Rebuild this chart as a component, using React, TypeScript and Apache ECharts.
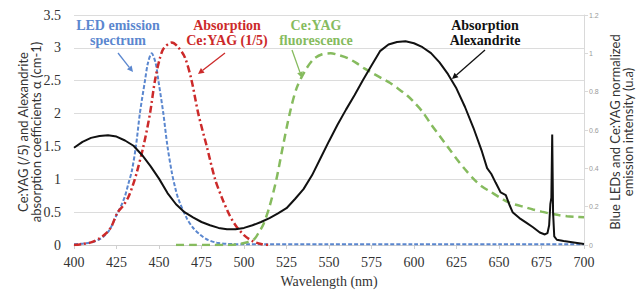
import React, { useEffect, useRef } from "react";
import * as echarts from "echarts";

// ---- Data ----
const xTicks = [400, 425, 450, 475, 500, 525, 550, 575, 600, 625, 650, 675, 700];

// Alexandrite absorption coefficient (left axis, cm-1)
const alexNm = [400, 405, 410, 415, 420, 425, 430, 435, 440, 445, 450, 455, 460, 465, 470, 475, 480, 485, 490, 495, 500, 505, 510, 515, 520, 525, 530, 535, 540, 545, 550, 555, 560, 565, 570, 575, 580, 585, 590, 595, 600, 605, 610, 615, 620, 625, 630, 635, 640, 643, 645.5, 648, 651, 654, 656, 658, 662, 666, 670, 674, 677, 678.5, 679.5, 680.2, 680.8, 681.3, 681.8, 682.5, 684, 688, 692, 696, 700];
const alexAbs = [1.48, 1.57, 1.63, 1.66, 1.67, 1.65, 1.59, 1.51, 1.37, 1.2, 1.01, 0.79, 0.62, 0.5, 0.42, 0.35, 0.3, 0.26, 0.24, 0.24, 0.26, 0.3, 0.35, 0.41, 0.48, 0.56, 0.7, 0.85, 1.06, 1.32, 1.58, 1.83, 2.06, 2.28, 2.51, 2.73, 2.95, 3.05, 3.09, 3.1, 3.07, 3.01, 2.92, 2.78, 2.6, 2.38, 2.1, 1.78, 1.42, 1.17, 1.08, 0.95, 0.8, 0.76, 0.62, 0.5, 0.41, 0.34, 0.27, 0.19, 0.16, 0.18, 0.3, 0.62, 0.72, 1.68, 0.5, 0.13, 0.08, 0.06, 0.045, 0.03, 0.015];

// Ce:YAG absorption /5 (left axis)
const yagAbsNm = [400, 405, 410, 415, 419, 422, 425.5, 429, 432, 434.5, 437, 441, 444.7, 447.6, 450.6, 453, 457.5, 461, 465.3, 469.2, 473.1, 478, 483, 487, 491, 495, 500, 505, 510, 515];
const yagAbs = [0.0, 0.015, 0.04, 0.1, 0.18, 0.28, 0.49, 0.6, 0.73, 0.9, 1.11, 1.52, 2.0, 2.5, 2.85, 3.0, 3.08, 3.02, 2.85, 2.5, 2.0, 1.51, 1.0, 0.72, 0.48, 0.3, 0.15, 0.06, 0.015, 0.0];

// Blue LED emission (right axis, normalized)
const ledNm = [400, 405, 410, 415, 418, 421, 425, 428, 430, 432, 434, 436.5, 438.8, 441.8, 443.5, 445.7, 448, 449.6, 452.5, 454.9, 457.5, 459.5, 461.4, 466.3, 470, 474, 478, 484, 490, 500, 550, 600, 650, 700];
const ledEm = [0.004, 0.007, 0.013, 0.03, 0.05, 0.08, 0.155, 0.21, 0.255, 0.32, 0.385, 0.52, 0.69, 0.86, 0.95, 1.0, 0.95, 0.86, 0.69, 0.52, 0.38, 0.3, 0.24, 0.14, 0.09, 0.055, 0.03, 0.012, 0.006, 0.004, 0.004, 0.004, 0.004, 0.004];

// Ce:YAG fluorescence (right axis, normalized)
const fluoNm = [460, 470, 480, 490, 497, 502, 506, 509, 511.5, 515, 519, 523, 527, 531, 536, 541, 546, 551, 556, 561, 566, 571, 576, 581, 586, 590, 596, 600, 605, 610, 615, 620, 625, 630, 635, 640, 645, 650, 655, 660, 665, 670, 675, 680, 685, 690, 695, 700];
const fluoEm = [0.0, 0.0, 0.0, 0.0, 0.005, 0.015, 0.03, 0.07, 0.11, 0.2, 0.34, 0.52, 0.69, 0.82, 0.91, 0.97, 0.995, 1.0, 0.99, 0.975, 0.95, 0.92, 0.895, 0.87, 0.845, 0.82, 0.78, 0.745, 0.695, 0.63, 0.57, 0.51, 0.45, 0.395, 0.345, 0.305, 0.278, 0.25, 0.225, 0.21, 0.198, 0.185, 0.174, 0.164, 0.156, 0.15, 0.147, 0.145];

const zip = (xs: number[], ys: number[]) => xs.map((x, i) => [x, ys[i]]);

const BLUE = "#5B87CF";
const RED = "#CC2A2A";
const GREEN = "#86BB5E";
const BLACK = "#111111";

function arrow(x1: number, y1: number, x2: number, y2: number, color: string) {
  const dx = x2 - x1;
  const dy = y2 - y1;
  const len = Math.sqrt(dx * dx + dy * dy);
  const ux = dx / len;
  const uy = dy / len;
  const hl = 6;
  const hw = 3;
  const bx = x2 - ux * hl;
  const by = y2 - uy * hl;
  return [
    { type: "line", shape: { x1, y1, x2: bx, y2: by }, style: { stroke: color, lineWidth: 1.3 } },
    {
      type: "polygon",
      shape: { points: [[x2, y2], [bx - uy * hw, by + ux * hw], [bx + uy * hw, by - ux * hw]] },
      style: { fill: color },
    },
  ];
}

function label(text: string, x: number, color: string) {
  return {
    type: "text",
    x,
    y: 18,
    style: {
      text,
      fill: color,
      fontFamily: '"Liberation Serif", serif',
      fontWeight: "bold",
      fontSize: 14,
      lineHeight: 15,
      align: "center",
      verticalAlign: "top",
    },
  };
}

export default function App() {
  const ref = useRef<HTMLDivElement>(null);
  useEffect(() => {
    if (!ref.current) return;
    const chart = echarts.init(ref.current, null, { renderer: "svg" });
    const serif = '"Liberation Serif", serif';
    chart.setOption({
      animation: false,
      backgroundColor: "#ffffff",
      grid: { left: 74, right: 57, top: 15, bottom: 44 },
      xAxis: {
        type: "value",
        min: xTicks[0],
        max: xTicks[xTicks.length - 1],
        interval: 25,
        axisLine: { show: true, lineStyle: { color: "#D0D0D0", width: 1 } },
        axisTick: { show: true, length: 4, lineStyle: { color: "#D0D0D0" } },
        splitLine: { show: false },
        axisLabel: { color: "#333", fontFamily: serif, fontSize: 14, margin: 10 },
        name: "Wavelength (nm)",
        nameLocation: "middle",
        nameGap: 29,
        nameTextStyle: { color: "#333", fontFamily: serif, fontSize: 14 },
      },
      yAxis: [
        {
          type: "value",
          min: 0,
          max: 3.5,
          interval: 0.5,
          axisLine: { show: false },
          axisTick: { show: false },
          splitLine: { show: true, lineStyle: { color: "#DCDCDC", width: 1 } },
          axisLabel: { color: "#333", fontFamily: serif, fontSize: 14, margin: 13 },
        },
        {
          type: "value",
          min: 0,
          max: 1.2,
          interval: 0.2,
          position: "right",
          axisLine: { show: true, lineStyle: { color: "#D9D9D9" } },
          axisTick: { show: true, length: 4, lineStyle: { color: "#D9D9D9" } },
          splitLine: { show: false },
          axisLabel: { color: "#9A9A9A", fontFamily: '"Liberation Sans", sans-serif', fontSize: 7, margin: 5 },
        },
      ],
      series: [
        {
          name: "LED emission spectrum",
          type: "line",
          yAxisIndex: 1,
          data: zip(ledNm, ledEm),
          showSymbol: false,
          smooth: 0.3,
          lineStyle: { color: BLUE, width: 2, type: [4, 2] },
          z: 3,
        },
        {
          name: "Absorption Ce:YAG (1/5)",
          type: "line",
          yAxisIndex: 0,
          data: zip(yagAbsNm, yagAbs),
          showSymbol: false,
          smooth: 0.3,
          lineStyle: { color: RED, width: 2.5, type: [7, 3, 2, 3] },
          z: 4,
        },
        {
          name: "Ce:YAG fluorescence",
          type: "line",
          yAxisIndex: 1,
          data: zip(fluoNm, fluoEm),
          showSymbol: false,
          smooth: 0.3,
          lineStyle: { color: GREEN, width: 2.5, type: [8, 5] },
          z: 3,
        },
        {
          name: "Absorption Alexandrite",
          type: "line",
          yAxisIndex: 0,
          data: zip(alexNm, alexAbs),
          showSymbol: false,
          smooth: false,
          lineStyle: { color: BLACK, width: 2 },
          z: 5,
        },
      ],
      graphic: [
        {
          type: "text",
          x: 29,
          y: 132,
          rotation: Math.PI / 2,
          style: {
            text: "Ce:YAG (/5) and Alexandrite\nabsorption coefficients \u03b1 (cm-1)",
            fill: "#333",
            fontFamily: "Lato, sans-serif",
            fontSize: 13,
            lineHeight: 13,
            align: "center",
            verticalAlign: "middle",
          },
        },
        {
          type: "text",
          x: 621,
          y: 132,
          rotation: Math.PI / 2,
          style: {
            text: "Blue LEDs and Ce:YAG normalized\nemission intensity (u.a)",
            fill: "#333",
            fontFamily: "Lato, sans-serif",
            fontSize: 13,
            lineHeight: 13,
            align: "center",
            verticalAlign: "middle",
          },
        },
        label("LED emission\nspectrum", 118, BLUE),
        label("Absorption\nCe:YAG (1/5)", 227, RED),
        label("Ce:YAG\nfluorescence", 316, GREEN),
        label("Absorption\nAlexandrite", 485, BLACK),
        ...arrow(118, 53, 133, 72, BLUE),
        ...arrow(225, 53, 198, 74, RED),
        ...arrow(292, 50, 302, 78, GREEN),
        ...arrow(485, 50, 452, 79, BLACK),
      ],
    });
    return () => chart.dispose();
  }, []);
  return (
    <div
      ref={ref}
      style={{ position: "fixed", left: 0, top: 0, width: 641, height: 293 }}
    />
  );
}
